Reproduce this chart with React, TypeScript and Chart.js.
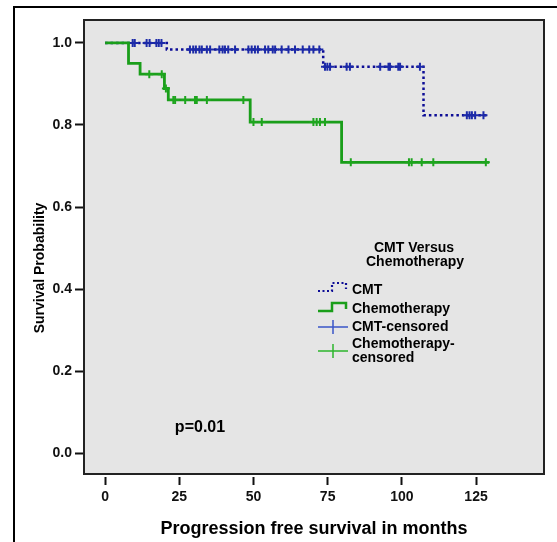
import React, { useEffect, useRef } from 'react';
import { Chart, registerables } from 'chart.js';

Chart.register(...registerables);

// ---- data ----
const xTickValues = [0, 25, 50, 75, 100, 125];
const yTickValues = [0, 0.2, 0.4, 0.6, 0.8, 1.0];

const cmtTimes = [0, 20.8, 73.5, 107.3, 128.6];
const cmtSurvival = [1.0, 0.984, 0.942, 0.824, 0.824];

const chemoTimes = [0, 7.9, 11.8, 20.0, 21.3, 48.9, 79.7, 129.4];
const chemoSurvival = [1.0, 0.95, 0.924, 0.889, 0.861, 0.807, 0.709, 0.709];

const cmtCensoredTimes = [
  9.3, 10.0, 14.0, 15.0, 17.3, 18.1, 19.0, 28.6, 29.7, 30.6, 31.8, 32.6, 34.3, 35.4,
  38.5, 39.6, 40.4, 41.5, 43.8, 48.3, 49.4, 50.5, 51.5, 53.9, 55.0, 56.5, 57.3, 59.5,
  61.8, 64.0, 66.6, 68.8, 70.2, 72.2, 74.1, 74.9, 75.8, 81.4, 82.5, 92.7, 95.5, 96.0,
  98.8, 99.4, 106.1, 121.9, 122.8, 123.6, 124.7, 127.5,
];
const chemoCensoredTimes = [
  14.9, 19.1, 20.5, 23.0, 23.6, 27.0, 30.3, 30.9, 34.3, 46.6, 50.0, 52.8, 70.2, 71.3,
  72.4, 74.1, 82.8, 102.4, 103.3, 106.7, 110.6, 128.3,
];

const legendTitle = ['CMT Versus', 'Chemotherapy'];
const legendLabels = ['CMT', 'Chemotherapy', 'CMT-censored', ['Chemotherapy-', 'censored']];
const pValueText = 'p=0.01';
const xTitle = 'Progression free survival in months';
const yTitle = 'Survival Probability';

// ---- colours ----
const CMT_COLOR = '#0d0d96';
const CMT_CENSOR_COLOR = '#1c2aa8';
const CHEMO_COLOR = '#1a9e1a';
const CHEMO_CENSOR_COLOR = '#1ea51e';
const FONT = '"Liberation Sans", Arial, sans-serif';

function survivalAt(times: number[], surv: number[], t: number): number {
  let v = surv[0];
  for (let i = 0; i < times.length; i++) {
    if (times[i] <= t) v = surv[i];
  }
  return v;
}

const toPoints = (xs: number[], ys: number[]) => xs.map((x, i) => ({ x, y: ys[i] }));

const framePlugin = {
  id: 'plotFrame',
  beforeDraw(chart: any) {
    const { ctx, chartArea: a } = chart;
    ctx.save();
    ctx.fillStyle = '#e5e5e5';
    ctx.fillRect(a.left, a.top, a.right - a.left, a.bottom - a.top);
    ctx.restore();
  },
  afterDraw(chart: any) {
    const { ctx, chartArea: a } = chart;
    ctx.save();
    ctx.strokeStyle = '#222';
    ctx.lineWidth = 2;
    ctx.strokeRect(a.left, a.top, a.right - a.left, a.bottom - a.top);

    // y axis title (rotated)
    ctx.save();
    ctx.translate(40, 268);
    ctx.rotate(-Math.PI / 2);
    ctx.fillStyle = '#000';
    ctx.font = `bold 14px ${FONT}`;
    ctx.textAlign = 'center';
    ctx.textBaseline = 'middle';
    ctx.fillText(yTitle, 0, 0);
    ctx.restore();

    // p value
    ctx.fillStyle = '#000';
    ctx.font = `bold 16px ${FONT}`;
    ctx.textAlign = 'center';
    ctx.textBaseline = 'middle';
    ctx.fillText(pValueText, 200, 428);

    // legend title
    ctx.font = `bold 14px ${FONT}`;
    ctx.fillText(legendTitle[0], 414, 248);
    ctx.fillText(legendTitle[1], 415, 262);

    // legend samples
    const sx0 = 318, sxm = 332, sx1 = 346;
    ctx.strokeStyle = CMT_COLOR;
    ctx.lineWidth = 2.2;
    ctx.setLineDash([2, 2.5]);
    ctx.beginPath();
    ctx.moveTo(sx0, 291); ctx.lineTo(sxm, 291); ctx.lineTo(sxm, 283); ctx.lineTo(sx1, 283); ctx.lineTo(sx1, 289);
    ctx.stroke();
    ctx.setLineDash([]);
    ctx.strokeStyle = CHEMO_COLOR;
    ctx.lineWidth = 2.5;
    ctx.beginPath();
    ctx.moveTo(sx0, 311); ctx.lineTo(sxm, 311); ctx.lineTo(sxm, 303); ctx.lineTo(sx1, 303); ctx.lineTo(sx1, 309);
    ctx.stroke();
    ctx.lineWidth = 1.5;
    ctx.strokeStyle = '#3a55c8';
    ctx.beginPath();
    ctx.moveTo(318, 327); ctx.lineTo(348, 327);
    ctx.moveTo(333, 320); ctx.lineTo(333, 334);
    ctx.stroke();
    ctx.strokeStyle = '#2db52d';
    ctx.beginPath();
    ctx.moveTo(318, 351); ctx.lineTo(348, 351);
    ctx.moveTo(333, 344); ctx.lineTo(333, 358);
    ctx.stroke();

    ctx.fillStyle = '#000';
    ctx.textAlign = 'left';
    ctx.fillText(legendLabels[0] as string, 352, 290);
    ctx.fillText(legendLabels[1] as string, 352, 309);
    ctx.fillText(legendLabels[2] as string, 352, 327);
    const l4 = legendLabels[3] as string[];
    ctx.fillText(l4[0], 352, 344);
    ctx.fillText(l4[1], 352, 358);
    ctx.restore();
  },
};

export default function App() {
  const canvasRef = useRef<HTMLCanvasElement | null>(null);

  useEffect(() => {
    const canvas = canvasRef.current;
    if (!canvas) return;

    const cmtCensorPts = cmtCensoredTimes.map((t) => ({ x: t, y: survivalAt(cmtTimes, cmtSurvival, t) }));
    const chemoCensorPts = chemoCensoredTimes.map((t) => ({ x: t, y: survivalAt(chemoTimes, chemoSurvival, t) }));

    const chart = new Chart(canvas, {
      type: 'line',
      data: {
        datasets: [
          {
            label: 'CMT',
            data: toPoints(cmtTimes, cmtSurvival),
            borderColor: CMT_COLOR,
            borderWidth: 2.5,
            borderDash: [2.5, 3],
            stepped: 'before',
            pointRadius: 0,
            fill: false,
            order: 4,
          },
          {
            label: 'CMT-censored',
            data: cmtCensorPts,
            showLine: false,
            pointStyle: 'cross',
            pointRadius: 4,
            pointBorderWidth: 2,
            borderColor: CMT_CENSOR_COLOR,
            backgroundColor: CMT_CENSOR_COLOR,
            order: 3,
          },
          {
            label: 'Chemotherapy',
            data: toPoints(chemoTimes, chemoSurvival),
            borderColor: CHEMO_COLOR,
            borderWidth: 2.8,
            stepped: 'before',
            pointRadius: 0,
            fill: false,
            order: 1,
          },
          {
            label: 'Chemotherapy-censored',
            data: chemoCensorPts,
            showLine: false,
            pointStyle: 'cross',
            pointRadius: 4,
            pointBorderWidth: 2,
            borderColor: CHEMO_CENSOR_COLOR,
            backgroundColor: CHEMO_CENSOR_COLOR,
            order: 0,
          },
        ],
      },
      options: {
        animation: false,
        responsive: false,
        maintainAspectRatio: false,
        devicePixelRatio: 1,
        layout: { padding: { left: 0, right: 13, top: 20, bottom: 0 } },
        plugins: {
          legend: { display: false },
          tooltip: { enabled: false },
        },
        font: { family: FONT },
        scales: {
          x: {
            type: 'linear',
            min: -7.1,
            max: 147.9,
            afterFit: (scale: any) => { scale.height = 68; },
            border: { display: false },
            grid: {
              drawOnChartArea: false,
              drawTicks: true,
              tickLength: 11,
              tickColor: '#111',
              tickWidth: 2,
              tickBorderDash: [8, 3],
              tickBorderDashOffset: 8,
            },
            ticks: {
              includeBounds: false,
              stepSize: 25,
              padding: 4,
              color: '#111',
              font: { family: FONT, size: 14, weight: 'bold' },
              callback: (v: any) => (xTickValues.includes(Number(v)) ? String(v) : ''),
              maxRotation: 0,
              autoSkip: false,
            },
            title: {
              display: true,
              text: xTitle,
              color: '#000',
              font: { family: FONT, size: 18, weight: 'bold' },
              padding: { top: 0, bottom: 2 },
            },
          },
          y: {
            type: 'linear',
            min: -0.051,
            max: 1.056,
            afterFit: (scale: any) => { scale.width = 84; },
            border: { display: false },
            grid: {
              drawOnChartArea: false,
              drawTicks: true,
              tickLength: 9,
              tickColor: '#111',
              tickWidth: 2,
            },
            ticks: {
              includeBounds: false,
              stepSize: 0.2,
              padding: 3,
              color: '#111',
              font: { family: FONT, size: 14, weight: 'bold' },
              callback: (v: any) => {
                const n = Number(v);
                return yTickValues.some((t) => Math.abs(t - n) < 1e-6) ? n.toFixed(1) : '';
              },
              autoSkip: false,
            },
            title: { display: false },
          },
        },
      },
      plugins: [framePlugin],
    } as any);

    return () => chart.destroy();
  }, []);

  return (
    <div style={{ position: 'fixed', left: 0, top: 0, width: 557, height: 542, background: '#fff', overflow: 'hidden' }}>
      <div
        style={{
          position: 'absolute',
          left: 13,
          top: 6,
          width: 560,
          height: 534,
          borderTop: '2px solid #000',
          borderLeft: '2px solid #000',
          borderBottom: '1px solid #aaa',
        }}
      />
      <canvas ref={canvasRef} width={557} height={542} style={{ position: 'absolute', left: 0, top: 0 }} />
    </div>
  );
}
